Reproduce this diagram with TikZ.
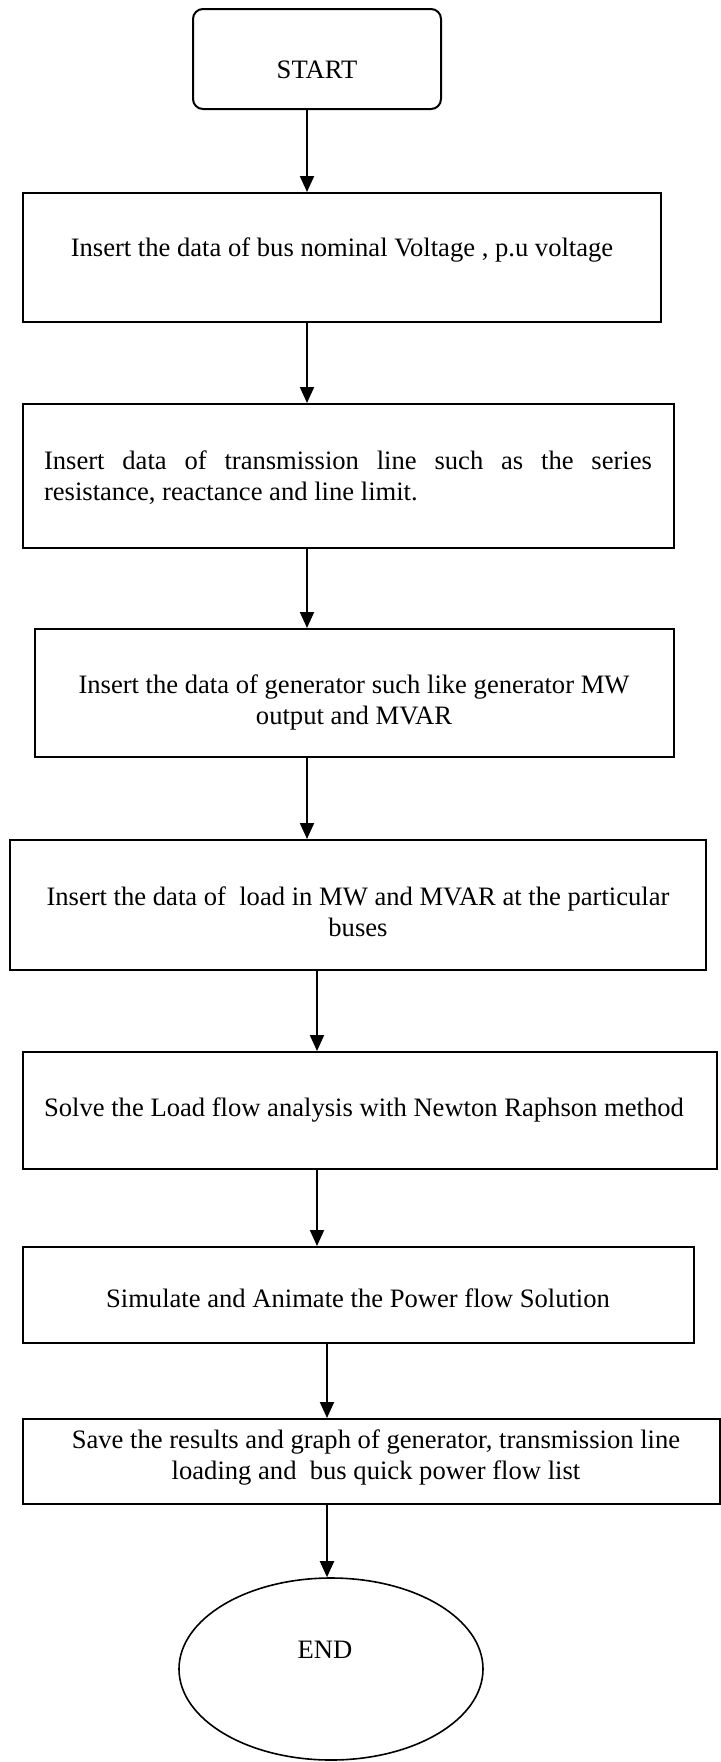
\documentclass[tikz,border=0pt]{standalone}
\usepackage{fontspec}
\setmainfont{Liberation Serif}
\usetikzlibrary{shapes.geometric,arrows.meta}
\hyphenpenalty=10000
\exhyphenpenalty=10000
\begin{document}
\begin{tikzpicture}[x=0.5pt,y=-0.5pt,
  box/.style={draw,line width=1pt,inner sep=0pt,rectangle},
  txt/.style={inner sep=0pt,align=center,font=\fontsize{13.3}{15.5}\selectfont},
  arr/.style={line width=1pt,-{Triangle[length=8pt,width=7pt]}}]
\useasboundingbox (0,0) rectangle (720,1762);
% shapes
\node[box,rounded corners=5pt,minimum width=124pt,minimum height=50pt] (start) at (317,59) {};
\node[box,minimum width=319pt,minimum height=64.5pt] (b1) at (342,257.5) {};
\node[box,minimum width=325.5pt,minimum height=72pt] (b2) at (348.5,476) {};
\node[box,minimum width=319.5pt,minimum height=64pt] (b3) at (354.5,693) {};
\node[box,minimum width=347.75pt,minimum height=65pt] (b4) at (358,905) {};
\node[box,minimum width=347pt,minimum height=58.5pt] (b5) at (370,1110.5) {};
\node[box,minimum width=335.5pt,minimum height=48pt] (b6) at (358.5,1295) {};
\node[box,minimum width=348.5pt,minimum height=42.5pt] (b7) at (371.5,1461.5) {};
\node[draw,ellipse,line width=0.8pt,inner sep=0pt,minimum width=152pt,minimum height=91pt] (end) at (331,1669) {};
% texts
\node[txt] (tstart) at (317,70) {START};
\node[txt] (t1) at (342,250) {Insert the data of bus nominal Voltage , p.u voltage};
\node[txt,text width=304pt,align=justify] (t2) at (348,477.5) {\hyphenpenalty=10000 Insert data of transmission line such as the series resistance, reactance and line limit.\par};
\node[txt] (t3) at (354,702.5) {Insert the data of generator such like generator MW\\output and MVAR};
\node[txt] (t4) at (358,912) {Insert the data of\ \ load in MW and MVAR at the particular\\buses};
\node[txt] (t5) at (364,1110) {Solve the Load flow analysis with Newton Raphson method};
\node[txt] (t6) at (358,1298) {Simulate and Animate the Power flow Solution};
\node[txt] (t7) at (376,1457.5) {Save the results and graph of generator, transmission line\\loading and\ \ bus quick power flow list};
\node[txt] (tend) at (325,1650) {END};
% connectors
\coordinate (xa) at (307,0);
\coordinate (xb) at (317,0);
\coordinate (xc) at (327,0);
\draw[arr] (start.south -| xa) -- (b1.north -| xa);
\draw[arr] (b1.south -| xa) -- (b2.north -| xa);
\draw[arr] (b2.south -| xa) -- (b3.north -| xa);
\draw[arr] (b3.south -| xa) -- (b4.north -| xa);
\draw[arr] (b4.south -| xb) -- (b5.north -| xb);
\draw[arr] (b5.south -| xb) -- (b6.north -| xb);
\draw[arr] (b6.south -| xc) -- (b7.north -| xc);
\draw[arr] (b7.south -| xc) -- (end.north -| xc);
\end{tikzpicture}
\end{document}
